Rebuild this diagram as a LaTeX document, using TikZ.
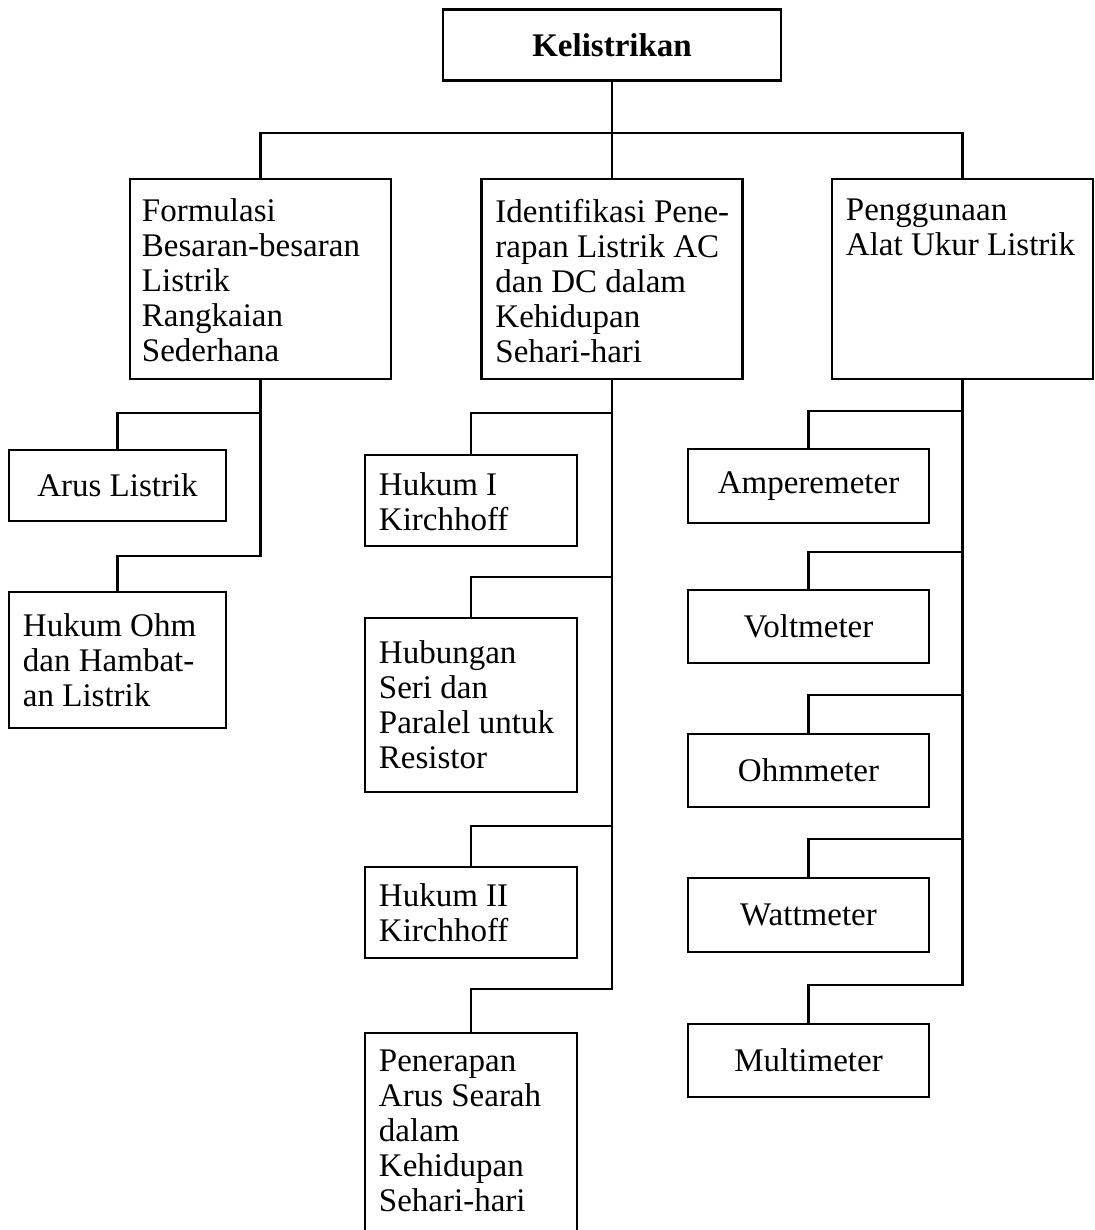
\documentclass[tikz,border=0pt]{standalone}
\usepackage{fontspec}
\setmainfont{Liberation Serif}
\begin{document}
\begin{tikzpicture}[x=1pt,y=-1pt,
  every node/.style={font=\fontsize{33}{35}\selectfont},
  box/.style={draw, line width=2.5pt, rectangle, inner sep=0pt, align=center},
  lbl/.style={anchor=north west, inner sep=0pt, align=left},
  lnk/.style={line width=2.5pt}]
\useasboundingbox (0,0) rectangle (1094,1230);
% top
\node[box, font=\fontsize{33}{35}\selectfont\bfseries, minimum width=338pt, minimum height=71pt] (top) at (612,45) {Kelistrikan};
% level 1
\node[box, minimum width=261pt, minimum height=200pt] (b1) at (260.5,279) {};
\node[lbl] (b1t) at ([xshift=13pt,yshift=-21pt]b1.north west)
  {Formulasi\\Besaran-besaran\\Listrik\\Rangkaian\\Sederhana};
\node[box, minimum width=261pt, minimum height=200pt] (b2) at (612,279) {};
\node[lbl] (b2t) at ([xshift=15pt,yshift=-21pt]b2.north west)
  {Identifikasi Pene-\\rapan Listrik AC\\dan DC dalam\\Kehidupan\\Sehari-hari};
\node[box, minimum width=261pt, minimum height=200pt] (b3) at (962.5,279) {};
\node[lbl] (b3t) at ([xshift=15pt,yshift=-21pt]b3.north west)
  {Penggunaan\\Alat Ukur Listrik};
% left branch
\node[box, minimum width=217pt, minimum height=71pt] (a1) at (117.5,485.5) {Arus Listrik};
\node[box, minimum width=217pt, minimum height=136pt] (a2) at (117.5,660) {};
\node[lbl] (a2t) at ([xshift=15pt,yshift=-23pt]a2.north west)
  {Hukum Ohm\\dan Hambat-\\an Listrik};
% middle branch
\node[box, minimum width=212pt, minimum height=91pt] (m1) at (471,500.5) {};
\node[lbl] (m1t) at ([xshift=15pt,yshift=-19pt]m1.north west) {Hukum I\\Kirchhoff};
\node[box, minimum width=212pt, minimum height=174pt] (m2) at (471,705) {};
\node[lbl] (m2t) at ([xshift=15pt,yshift=-24pt]m2.north west)
  {Hubungan\\Seri dan\\Paralel untuk\\Resistor};
\node[box, minimum width=212pt, minimum height=91pt] (m3) at (471,912.5) {};
\node[lbl] (m3t) at ([xshift=15pt,yshift=-18pt]m3.north west) {Hukum II\\Kirchhoff};
\node[box, minimum width=212pt, minimum height=207pt] (m4) at (471,1136.5) {};
\node[lbl] (m4t) at ([xshift=15pt,yshift=-18pt]m4.north west)
  {Penerapan\\Arus Searah\\dalam\\Kehidupan\\Sehari-hari};
% right branch
\node[box, minimum width=241pt, minimum height=74pt] (r1) at (808.5,486) {Amperemeter};
\node[box, minimum width=241pt, minimum height=73pt] (r2) at (808.5,626.5) {Voltmeter};
\node[box, minimum width=241pt, minimum height=73pt] (r3) at (808.5,770.5) {Ohmmeter};
\node[box, minimum width=241pt, minimum height=74pt] (r4) at (808.5,915) {Wattmeter};
\node[box, minimum width=241pt, minimum height=73pt] (r5) at (808.5,1060.5) {Multimeter};
% junctions
\coordinate (T) at (612,133);
\coordinate (L1) at (260.5,413);
\coordinate (L2) at (260.5,556);
\coordinate (M1) at (612,413);
\coordinate (M2) at (612,577);
\coordinate (M3) at (612,826);
\coordinate (M4) at (612,989);
\coordinate (R1) at (962.5,411);
\coordinate (R2) at (962.5,552);
\coordinate (R3) at (962.5,695);
\coordinate (R4) at (962.5,839);
\coordinate (R5) at (962.5,985);
% connectors
\draw[lnk] (top.south) -- (T);
\draw[lnk] (b1.north) |- (T) -| (b3.north);
\draw[lnk] (T) -- (b2.north);
\draw[lnk] (b1.south) -- (L2) -| (a2.north);
\draw[lnk] (L1) -| (a1.north);
\draw[lnk] (b2.south) -- (M4) -| (m4.north);
\draw[lnk] (M1) -| (m1.north);
\draw[lnk] (M2) -| (m2.north);
\draw[lnk] (M3) -| (m3.north);
\draw[lnk] (b3.south) -- (R5) -| (r5.north);
\draw[lnk] (R1) -| (r1.north);
\draw[lnk] (R2) -| (r2.north);
\draw[lnk] (R3) -| (r3.north);
\draw[lnk] (R4) -| (r4.north);
\end{tikzpicture}
\end{document}
